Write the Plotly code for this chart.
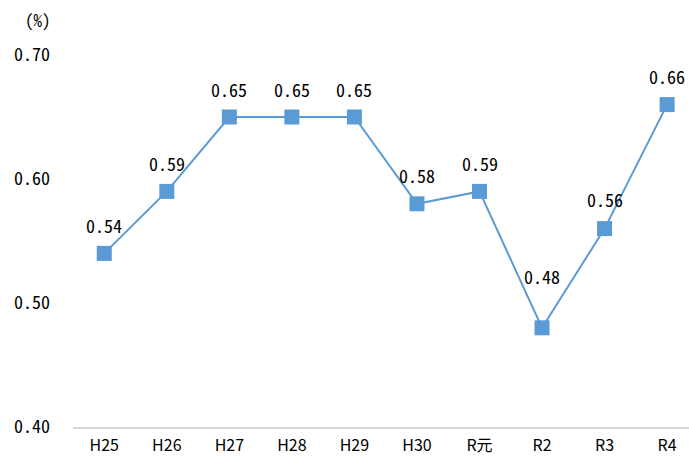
import plotly.graph_objects as go

categories = ["H25", "H26", "H27", "H28", "H29", "H30", "R元", "R2", "R3", "R4"]
values = [0.54, 0.59, 0.65, 0.65, 0.65, 0.58, 0.59, 0.48, 0.56, 0.66]
y_ticks = [0.40, 0.50, 0.60, 0.70]
y_ticktext = ["0.40", "0.50", "0.60", "0.70"]

# vertical offset (px) of each value label above its marker
label_shift = [28, 28, 28, 28, 28, 29, 28, 52, 30, 29]

color = "#5B9BD5"
mono = "Noto Sans Mono CJK JP, Liberation Mono, monospace"
xs = list(range(len(categories)))

fig = go.Figure(
    go.Scatter(
        x=xs,
        y=values,
        mode="lines+markers",
        line=dict(color=color, width=2),
        marker=dict(symbol="square", size=15, color=color),
        cliponaxis=False,
        hoverinfo="skip",
    )
)

annotations = [
    dict(
        x=xv, y=yv, xref="x", yref="y",
        text=f"{yv:.2f}",
        showarrow=False,
        yshift=sh,
        font=dict(family=mono, size=18, color="#000000"),
    )
    for xv, yv, sh in zip(xs, values, label_shift)
]
annotations.append(
    dict(
        text="(%)",
        xref="paper",
        yref="paper",
        x=(38 - 73) / (689 - 73),
        y=(427 - 19) / (427 - 55),
        xanchor="center",
        yanchor="middle",
        showarrow=False,
        font=dict(family=mono, size=17, color="#000000"),
    )
)

fig.update_layout(
    width=689,
    height=457,
    margin=dict(l=73, r=0, t=55, b=30, autoexpand=False),
    paper_bgcolor="white",
    plot_bgcolor="white",
    showlegend=False,
    hovermode=False,
    xaxis=dict(
        range=[-0.5, 9.35],
        tickmode="array",
        tickvals=xs,
        ticktext=categories,
        showgrid=False,
        zeroline=False,
        showline=True,
        linecolor="#D9D9D9",
        linewidth=1.5,
        ticks="",
        ticklabelstandoff=3,
        tickfont=dict(family="Noto Sans CJK JP", size=16, color="#000000"),
    ),
    yaxis=dict(
        range=[0.40, 0.70],
        tickmode="array",
        tickvals=y_ticks,
        ticktext=y_ticktext,
        showgrid=False,
        zeroline=False,
        showline=False,
        ticks="",
        ticklabelstandoff=22,
        tickfont=dict(family=mono, size=18, color="#000000"),
    ),
    annotations=annotations,
)

fig.write_html(
    "out.html",
    config={"displayModeBar": False},
    post_script="document.body.style.margin='0';document.documentElement.style.overflow='hidden';document.body.style.overflow='hidden';",
)
